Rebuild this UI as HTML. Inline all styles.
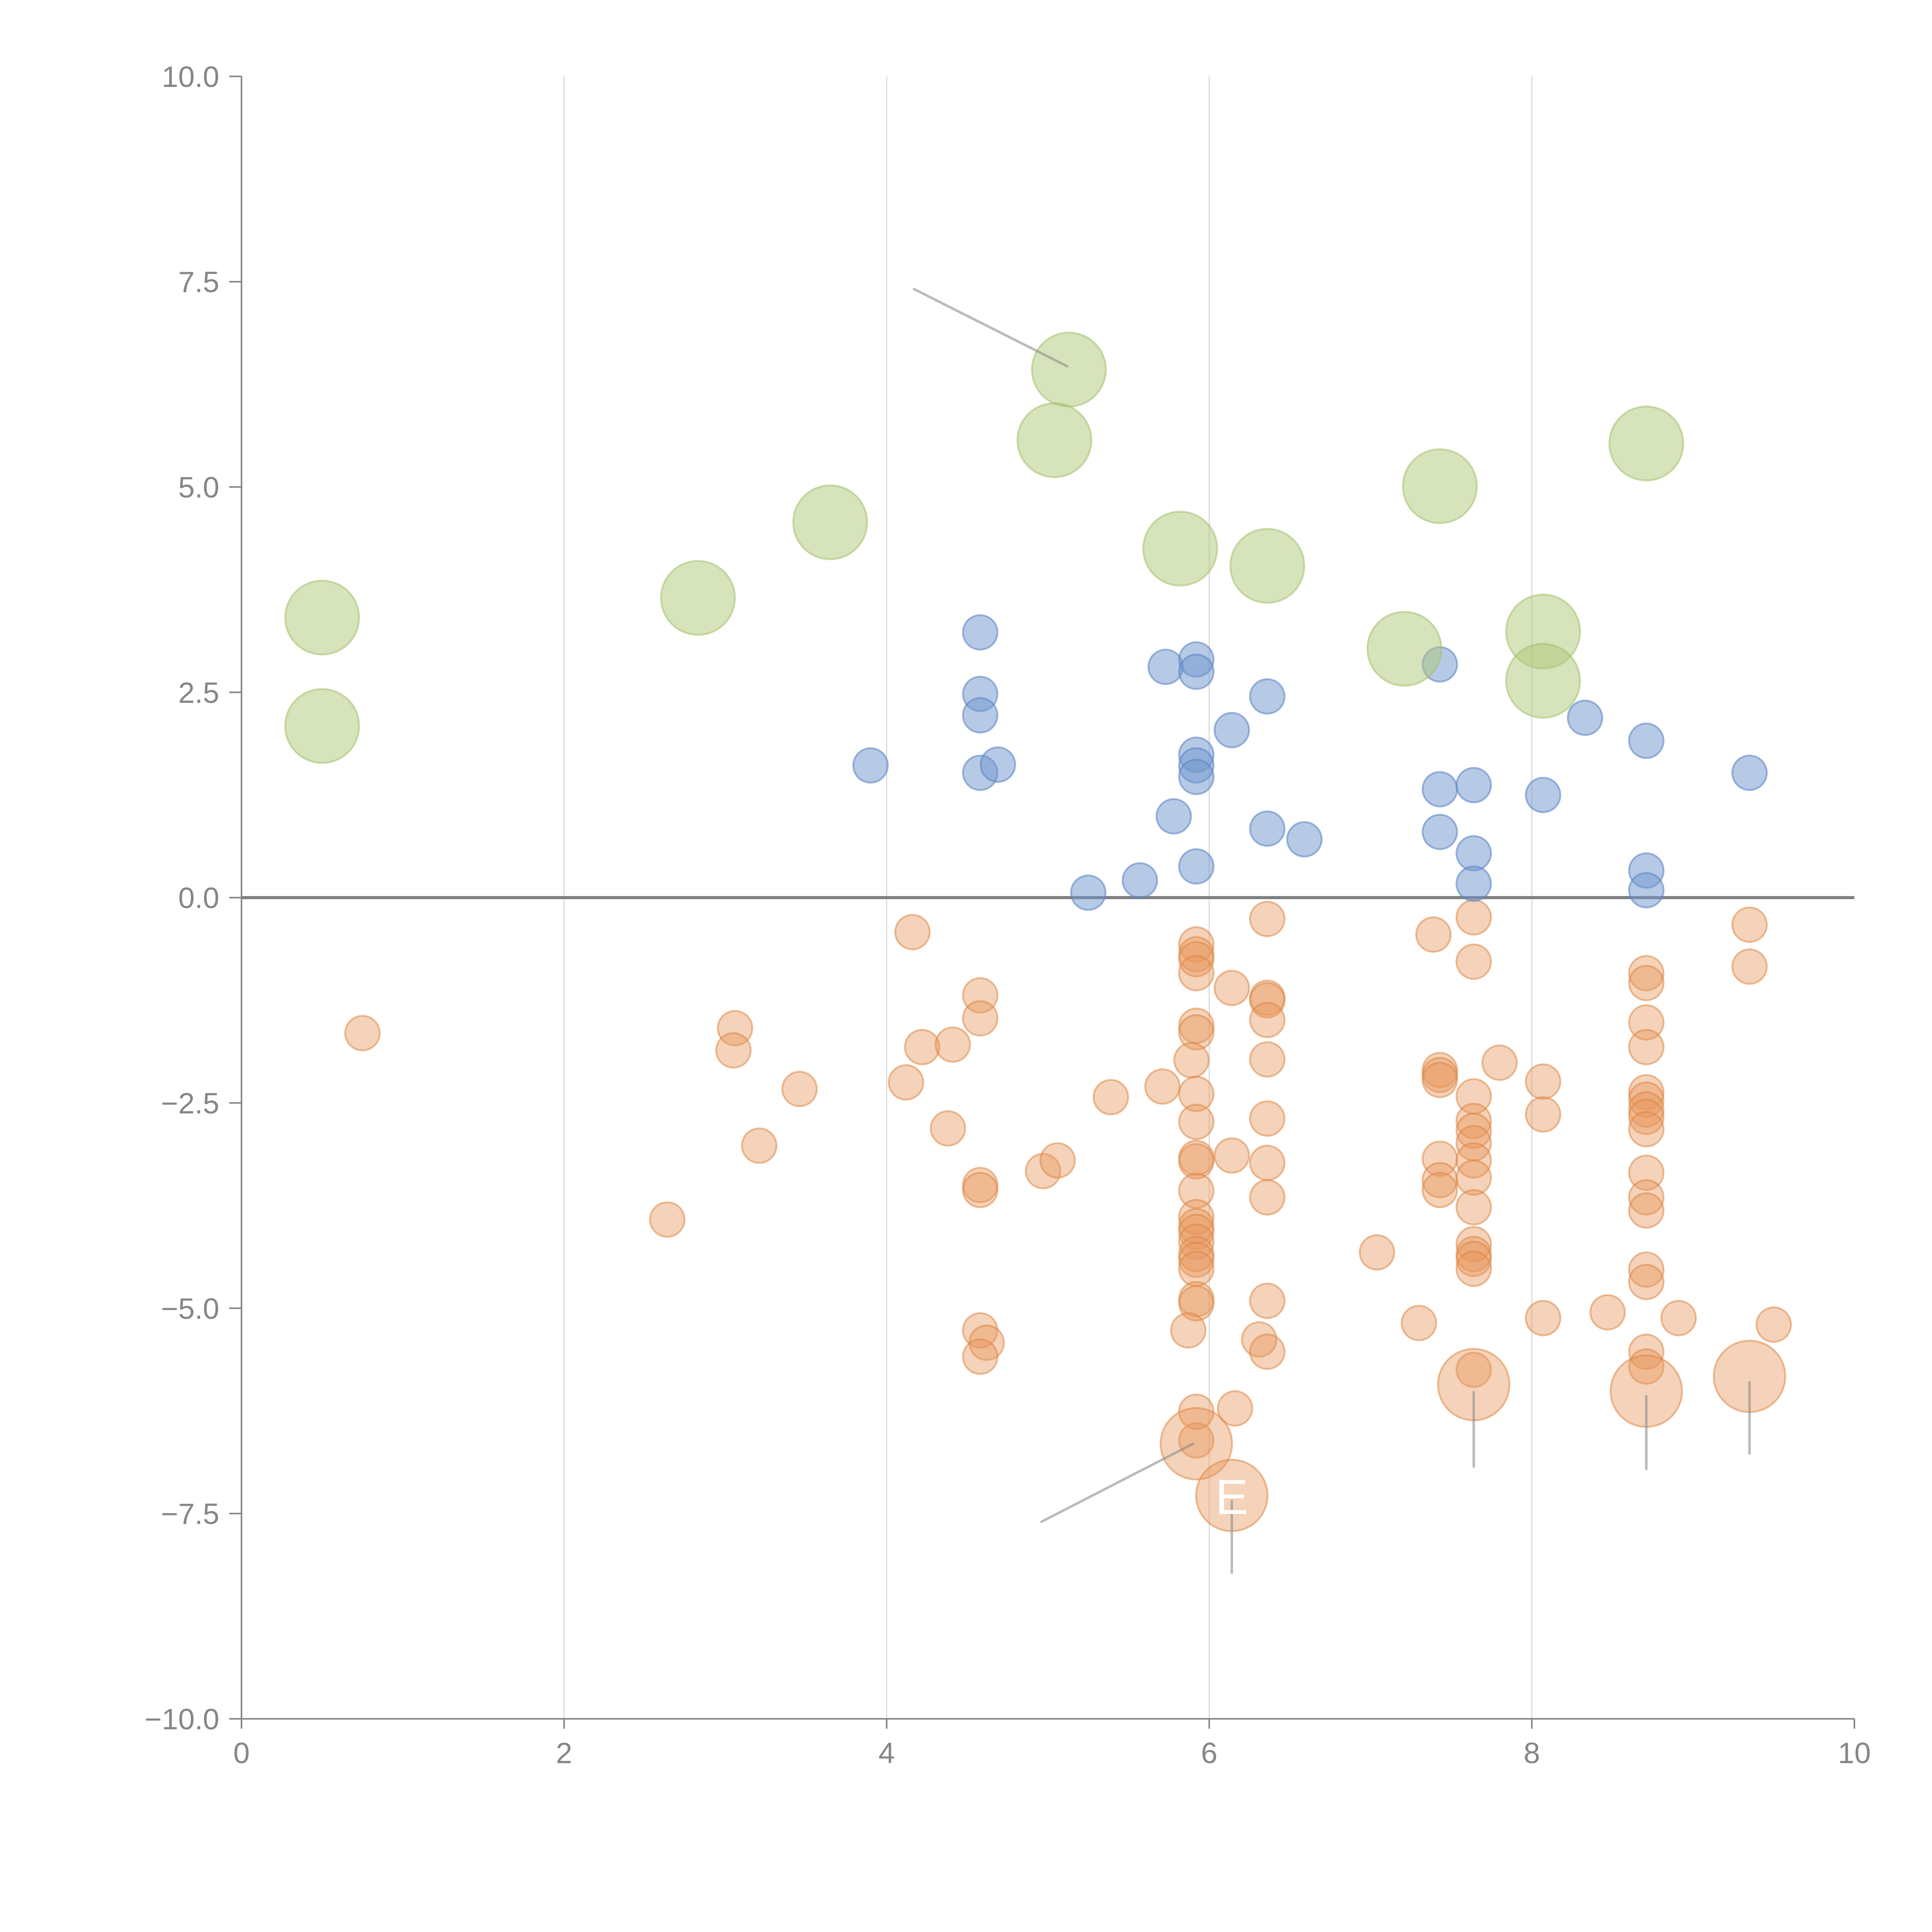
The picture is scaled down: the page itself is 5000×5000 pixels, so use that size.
<!DOCTYPE html>
<html><head><meta charset="utf-8"><style>html,body{margin:0;padding:0;background:#fff;}svg{display:block;}</style></head>
<body>
<svg id="chart" width="5000" height="5000" viewBox="0 0 1568 1568" xmlns="http://www.w3.org/2000/svg" font-family="'Liberation Sans', Arial, sans-serif">
<rect width="1568" height="1568" fill="#fff"/>
<g id="grid"></g><g id="axes"></g><g id="marks"></g><g id="annot"></g>
</svg>
<script>
const xTicks=[0,2,4,6,8,10];
const yTicks=[-10,-7.5,-5,-2.5,0,2.5,5,7.5,10];
const yTickLabels=["\u221210.0","\u22127.5","\u22125.0","\u22122.5","0.0","2.5","5.0","7.5","10.0"];
const greenX=[0.50,0.50,2.83,3.65,5.13,5.04,5.82,6.36,7.43,7.21,8.07,8.07,8.71];
const greenY=[3.41,2.09,3.65,4.57,6.43,5.57,4.25,4.04,5.01,3.03,3.24,2.64,5.53];
const blueX=[4.58,4.58,4.58,3.90,4.58,4.69,5.73,5.92,5.92,6.14,6.36,5.92,5.92,5.92,5.78,5.92,5.25,5.57,6.36,6.59,7.43,7.43,7.64,7.43,7.64,7.64,8.07,8.33,8.71,8.71,8.71,9.35];
const blueY=[3.23,2.48,2.22,1.61,1.52,1.62,2.81,2.90,2.75,2.04,2.45,1.74,1.61,1.47,0.99,0.38,0.06,0.21,0.84,0.71,2.84,1.32,1.37,0.80,0.54,0.17,1.25,2.19,1.91,0.33,0.09,1.52];
const orangeX=[0.75,2.64,3.06,3.05,3.21,3.46,4.16,4.12,4.22,4.41,4.38,4.58,4.58,4.58,4.58,4.58,4.62,4.58,4.97,5.06,5.39,5.71,
5.92,5.92,5.92,5.92,5.92,5.92,5.89,5.92,5.92,5.92,5.92,5.92,5.92,5.92,5.92,5.92,5.92,5.92,5.92,5.92,5.92,5.87,5.92,5.92,
6.14,6.14,6.16,
6.36,6.36,6.36,6.36,6.36,6.36,6.36,6.36,6.36,6.31,6.36,
7.04,7.30,7.39,
7.43,7.43,7.43,7.43,7.43,7.43,
7.64,7.64,7.64,7.64,7.64,7.64,7.64,7.64,7.64,7.64,7.64,7.64,7.64,7.64,
7.80,8.07,8.07,8.07,8.47,
8.71,8.71,8.71,8.71,8.71,8.71,8.71,8.71,8.71,8.71,8.71,8.71,8.71,8.71,8.71,8.71,
8.91,9.35,9.35,9.50];
const orangeY=[-1.65,-3.92,-1.59,-1.86,-3.02,-2.33,-0.42,-2.25,-1.82,-1.79,-2.81,-1.19,-1.47,-3.50,-3.56,-5.27,-5.42,-5.59,-3.33,-3.20,-2.43,-2.30,
-0.57,-0.69,-0.75,-0.92,-1.56,-1.64,-1.98,-2.39,-2.73,-3.17,-3.21,-3.57,-3.89,-4.00,-4.07,-4.19,-4.34,-4.41,-4.52,-4.89,-4.94,-5.27,-6.26,-6.61,
-1.10,-3.14,-6.22,
-0.26,-1.22,-1.25,-1.49,-1.97,-2.69,-3.23,-3.65,-4.91,-5.38,-5.53,
-4.32,-5.18,-0.45,
-2.10,-2.16,-2.22,-3.18,-3.44,-3.56,
-0.24,-0.78,-2.42,-2.72,-2.84,-2.99,-3.20,-3.41,-3.77,-4.22,-4.34,-4.40,-4.52,-5.75,
-2.01,-2.24,-2.64,-5.12,-5.05,
-0.92,-1.04,-1.52,-1.82,-2.37,-2.46,-2.58,-2.67,-2.82,-3.35,-3.65,-3.81,-4.53,-4.68,-5.53,-5.71,
-5.12,-0.33,-0.84,-5.20];
const bigOrangeX=[5.92,6.14,7.64,8.71,9.35];
const bigOrangeY=[-6.65,-7.28,-5.93,-6.01,-5.83];

const NS="http://www.w3.org/2000/svg";
const X0=196,X1=1505,Y0=1395,Y1=62;
function sx(v){return X0+(v-0)/(10-0)*(X1-X0);}
function sy(v){return Y0-(v+10)/20*(Y0-Y1);}
function mk(tag,attrs,parent){const e=document.createElementNS(NS,tag);for(const k in attrs)e.setAttribute(k,attrs[k]);parent.appendChild(e);return e;}
const grid=document.getElementById('grid'),axes=document.getElementById('axes'),marks=document.getElementById('marks'),annot=document.getElementById('annot');

xTicks.forEach((t,i)=>{
  if(t>0&&t<10){const g=mk('line',{x1:sx(t),x2:sx(t),y1:Y1,y2:Y0,stroke:'#dcdcdc','stroke-width':1},grid);
  
  }
  const tk=mk('line',{x1:sx(t),x2:sx(t),y1:Y0,y2:Y0+8,stroke:'#888','stroke-width':1.3},axes);
  
  
  const lb=mk('text',{x:sx(t),y:Y0+36,'text-anchor':'middle','font-size':24,fill:'#868686'},axes);
  lb.textContent=String(t);
  
  
});
yTicks.forEach((t,i)=>{
  const tk=mk('line',{x1:X0-10,x2:X0,y1:sy(t),y2:sy(t),stroke:'#888','stroke-width':1.3},axes);
  
  
  const lb=mk('text',{x:X0-18,y:sy(t)+8.5,'text-anchor':'end','font-size':24,fill:'#868686'},axes);
  lb.textContent=yTickLabels[i];
  
  
});
let a=mk('line',{x1:X0,x2:X0,y1:Y1,y2:Y0,stroke:'#888','stroke-width':1.3},axes);


a=mk('line',{x1:X0,x2:X1,y1:Y0,y2:Y0,stroke:'#888','stroke-width':1.3},axes);



function series(xs,ys,r,fill,stroke,name){
  xs.forEach((x,i)=>{
    const c=mk('circle',{cx:sx(x),cy:sy(ys[i]),r:r,fill:fill,stroke:stroke,'stroke-width':1.5},marks);
    
    
  });
}
series(orangeX,orangeY,14,'rgba(230,150,90,0.42)','rgba(220,130,60,0.5)','orange-bubble');
series(bigOrangeX,bigOrangeY,29,'rgba(230,150,90,0.42)','rgba(220,130,60,0.5)','orange-large-bubble');
series(blueX,blueY,14,'rgba(110,150,205,0.5)','rgba(90,130,195,0.55)','blue-bubble');
series(greenX,greenY,30,'rgba(175,200,120,0.5)','rgba(160,190,100,0.5)','green-bubble');

const z=mk('line',{x1:X0,x2:X1,y1:sy(0),y2:sy(0),stroke:'#808080','stroke-width':2.5},axes);



function lead(x1,y1,x2,y2){const l=mk('line',{x1:sx(x1),y1:sy(y1),x2:sx(x2),y2:sy(y2),stroke:'rgba(140,140,140,0.6)','stroke-width':2,'stroke-linecap':'round'},annot);

}
lead(4.17,7.41,5.12,6.47);
lead(4.96,-7.60,5.90,-6.65);
lead(6.14,-7.35,6.14,-8.22);
lead(7.64,-6.02,7.64,-6.93);
lead(8.71,-6.07,8.71,-6.96);
lead(9.35,-5.90,9.35,-6.77);
const e=mk('text',{x:sx(6.14),y:sy(-7.28)+15,'text-anchor':'middle','font-size':40,fill:'#fff'},annot);
e.textContent='E';


</script>
</body></html>
